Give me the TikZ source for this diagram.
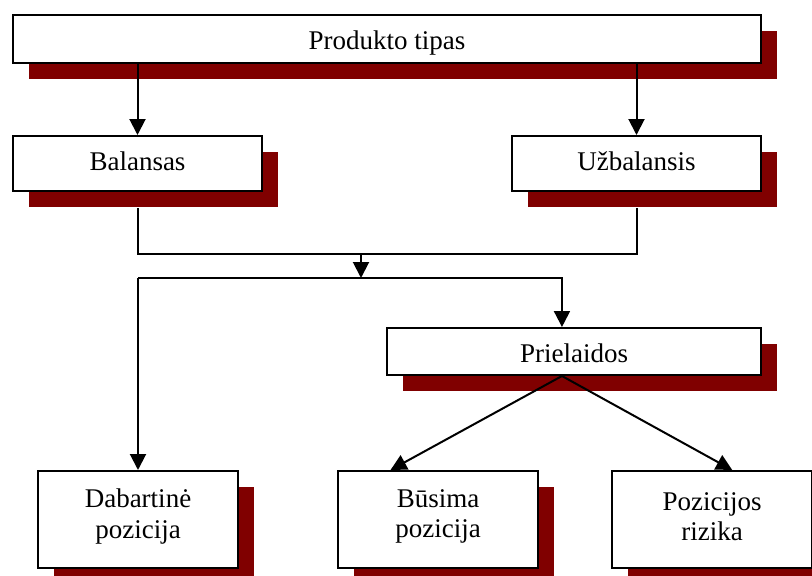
\documentclass[tikz,border=0pt]{standalone}
\usepackage{fontspec}
\setmainfont{Liberation Serif}
\usetikzlibrary{arrows.meta,calc,shadows}
\definecolor{shadowred}{HTML}{800000}
\begin{document}
\begin{tikzpicture}[x=1pt,y=-1pt,
  box/.style={draw=black, line width=2pt, fill=white, inner sep=0pt, anchor=north west,
    general shadow={fill=shadowred, shadow xshift=16pt, shadow yshift=-16pt}},
  lbl/.style={inner sep=0pt, align=center, font=\fontsize{27}{30.5}\selectfont},
  conn/.style={line width=2pt, draw=black},
  arr/.style={conn, -{Triangle[length=16pt,width=16pt]}}]
\useasboundingbox (0,0) rectangle (812,576);
\node[box, minimum width=748pt, minimum height=48pt] (top) at (12,14) {};
\node[box, minimum width=249pt, minimum height=55pt] (bal) at (12,135) {};
\node[box, minimum width=249pt, minimum height=55pt] (uzb) at (511,135) {};
\node[box, minimum width=374pt, minimum height=47pt] (pri) at (386,327) {};
\node[box, minimum width=200pt, minimum height=97pt] (dab) at (37,470) {};
\node[box, minimum width=200pt, minimum height=97pt] (bus) at (337,470) {};
\node[box, minimum width=200pt, minimum height=97pt] (poz) at (611,470) {};
\node[lbl] (topt) at ($(top.center)+(0,4)$) {Produkto tipas};
\node[lbl] (balt) at ($(bal.center)+(0,-2)$) {Balansas};
\node[lbl] (uzbt) at ($(uzb.center)+(0,-2)$) {Užbalansis};
\node[lbl] (prit) at ($(pri.center)+(0,2)$) {Prielaidos};
\node[lbl] (dabt) at ($(dab.center)+(0,-3)$) {Dabartinė\\pozicija};
\node[lbl] (bust) at ($(bus.center)+(0,-3)$) {Būsima\\pozicija};
\node[lbl] (pozt) at ($(poz.center)+(0,-3)$) {Pozicijos\\rizika};
% top arrows
\draw[arr] (top.south -| bal.north) -- (bal.north);
\draw[arr] (top.south -| uzb.north) -- (uzb.north);
% merge
\coordinate (j1) at (361,254);
\coordinate (j2) at (361,278);
\draw[conn] ($(bal.south)+(0,16)$) -- (bal.south |- j1) -- (uzb.south |- j1) -- ($(uzb.south)+(0,16)$);
\draw[arr] (j1) -- (j2);
\coordinate (pin) at ($(pri.north west)!0.468!(pri.north east)$);
\draw[arr] (dab.north |- j2) -- (pin |- j2) -- (pin);
\draw[arr] (dab.north |- j2) -- (dab.north);
% from Prielaidos
\coordinate (pout) at (pri.south -| pin);
\coordinate (bin) at ($(bus.north west)!0.265!(bus.north east)$);
\coordinate (zin) at ($(poz.north west)!0.6!(poz.north east)$);
\draw[arr] (pout) -- (bin);
\draw[arr] (pout) -- (zin);
\end{tikzpicture}
\end{document}
